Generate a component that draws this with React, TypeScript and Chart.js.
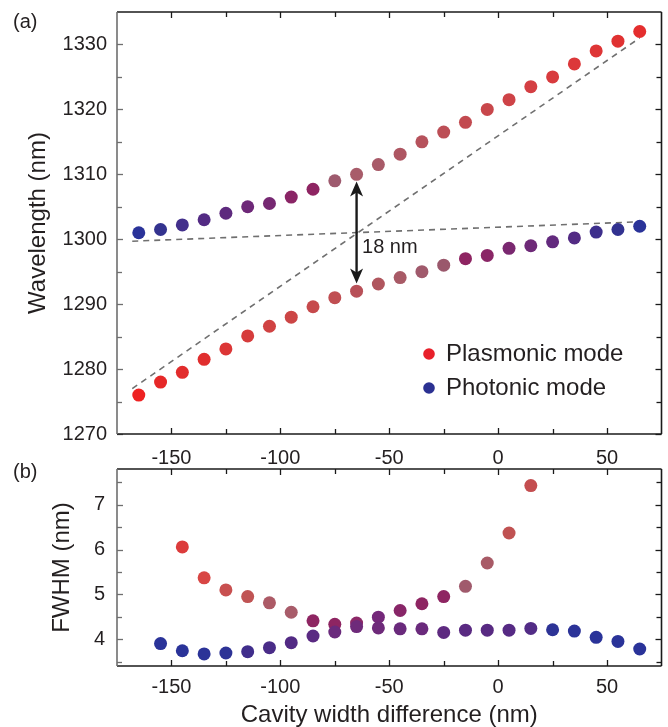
import React, { useEffect, useRef } from 'react';
import { Chart, registerables } from 'chart.js';

Chart.register(...registerables);

const FONT = '"Liberation Sans", Arial, Helvetica, sans-serif';
const TEXT = '#231f20';

// ---- Panel (a): resonance wavelengths ----
const cavityWidth = [-165, -155, -145, -135, -125, -115, -105, -95, -85, -75, -65, -55, -45, -35, -25, -15, -5, 5, 15, 25, 35, 45, 55, 65];
const upperBranch = [1301.0, 1301.5, 1302.2, 1303.0, 1304.0, 1305.0, 1305.5, 1306.5, 1307.7, 1309.0, 1310.0, 1311.5, 1313.1, 1315.0, 1316.5, 1318.0, 1320.0, 1321.5, 1323.5, 1325.0, 1327.0, 1329.0, 1330.5, 1332.0];
const lowerBranch = [1276.0, 1278.0, 1279.5, 1281.5, 1283.1, 1285.1, 1286.6, 1288.0, 1289.6, 1291.0, 1292.0, 1293.1, 1294.1, 1295.0, 1296.0, 1297.0, 1297.5, 1298.6, 1299.0, 1299.6, 1300.2, 1301.1, 1301.5, 1302.0];
const upperColors = ['#2a3399', '#34338f', '#43308c', '#532b84', '#5e2a7e', '#6e2878', '#762872', '#8a2566', '#8e2462', '#9e5a6e', '#a85c6a', '#a85a68', '#ae5662', '#b6525c', '#bc4e56', '#c24a50', '#c8474b', '#ce4347', '#d43f43', '#d83b3e', '#dc383a', '#de3536', '#e03232', '#e42e2e'];
const lowerColors = ['#ee2222', '#e62828', '#e22c2c', '#e02e2e', '#dc3636', '#d63c3c', '#d04242', '#cc4646', '#c64a4c', '#c04e52', '#b85058', '#b0565e', '#a85a66', '#a05a6c', '#9a586c', '#8e2462', '#8a2666', '#7a2870', '#6e2a78', '#632a7e', '#532b84', '#3d2f8c', '#323290', '#2a3399'];

// uncoupled (dashed) modes
const uncoupledPlasmonicX = [-168, 65];
const uncoupledPlasmonic = [1277.0, 1331.0];
const uncoupledPhotonicX = [-168, 66];
const uncoupledPhotonic = [1299.7, 1302.7];

// splitting arrow
const splittingX = -65;
const splittingLow = 1293.2;
const splittingHigh = 1308.9;
const splittingLabel = '18 nm';
const splittingLabelX = -62.5;
const splittingLabelY = 1298.8;

// ---- Panel (b): FWHM ----
const fwhmPlasmonicX = [-145, -135, -125, -115, -105, -95, -85, -75, -65, -55, -45, -35, -25, -15, -5, 5, 15];
const fwhmPlasmonic = [6.06, 5.37, 5.10, 4.95, 4.81, 4.60, 4.41, 4.33, 4.36, 4.49, 4.64, 4.79, 4.95, 5.18, 5.70, 6.37, 7.43];
const fwhmPlasmonicColors = ['#dc3c3c', '#d84644', '#c85050', '#c05454', '#ac5a66', '#a85c6a', '#8e2562', '#8e2562', '#8c2868', '#74287a', '#882668', '#8e2562', '#8e2562', '#a05a6c', '#a85a66', '#c05252', '#c44e50'];
const fwhmPhotonicX = [-155, -145, -135, -125, -115, -105, -95, -85, -75, -65, -55, -45, -35, -25, -15, -5, 5, 15, 25, 35, 45, 55, 65];
const fwhmPhotonic = [3.90, 3.74, 3.67, 3.69, 3.72, 3.81, 3.92, 4.07, 4.16, 4.28, 4.25, 4.23, 4.23, 4.15, 4.20, 4.20, 4.20, 4.24, 4.21, 4.18, 4.04, 3.95, 3.78];
const fwhmPhotonicColors = ['#2a3399', '#2a3399', '#2b3398', '#2d3396', '#402e8c', '#4a2c88', '#522a84', '#5a2a82', '#6a2a7c', '#6e2a7a', '#6e2a7a', '#6a2a7c', '#6a2a7c', '#5e2a80', '#5a2a82', '#582a82', '#562a84', '#522c86', '#2d3396', '#2c3398', '#2a3399', '#2a3399', '#2a3399'];

// ---- axes ----
const xMin = -175;
const xMax = 75;
const xMajorTicks = [-150, -100, -50, 0, 50];
const xMinorTicks = [-125, -75, -25, 25];
const wavelengthMin = 1270;
const wavelengthMax = 1335;
const wavelengthMajorTicks = [1270, 1280, 1290, 1300, 1310, 1320, 1330];
const wavelengthMinorTicks = [1275, 1285, 1295, 1305, 1315, 1325];
const fwhmMin = 3.4;
const fwhmMax = 7.8;
const fwhmMajorTicks = [4, 5, 6, 7];
const fwhmMinorTicks = [3.5, 4.5, 5.5, 6.5, 7.5];

const legendLabels = ['Plasmonic mode', 'Photonic mode'];
const legendColors = ['#e8202a', '#2b3192'];

const xTitle = 'Cavity width difference (nm)';
const yTitleA = 'Wavelength (nm)';
const yTitleB = 'FWHM (nm)';

type FrameCfg = {
  yMajor: number[];
  yMinor: number[];
  panel: string;
  panelY: number;
  extras?: (chart: any) => void;
};

function makeFramePlugin(cfg: FrameCfg) {
  return {
    id: 'frame',
    afterDraw(chart: any) {
      const { ctx, chartArea: a, scales } = chart;
      const x = scales.x;
      const y = scales.y;
      ctx.save();
      if (cfg.extras) cfg.extras(chart);

      const seg = (x1: number, y1: number, x2: number, y2: number) => {
        ctx.beginPath();
        ctx.moveTo(x1, y1);
        ctx.lineTo(x2, y2);
        ctx.stroke();
      };
      ctx.lineWidth = 1.3;
      ctx.strokeStyle = '#1a1a1a';
      const xt = (vals: number[], len: number) =>
        vals.forEach((v) => {
          const p = Math.round(x.getPixelForValue(v)) + 0.5;
          seg(p, a.bottom, p, a.bottom - len);
          seg(p, a.top, p, a.top + len);
        });
      xt(xMajorTicks, 6);
      xt(xMinorTicks, 5);
      const yt = (vals: number[], len: number, side: 'l' | 'r') =>
        vals.forEach((v) => {
          const p = Math.round(y.getPixelForValue(v)) + 0.5;
          if (side === 'l') seg(a.left, p, a.left + len, p);
          else seg(a.right, p, a.right - len, p);
        });
      yt(cfg.yMajor, 6, 'r');
      yt(cfg.yMinor, 5, 'r');
      ctx.strokeStyle = '#6f6f6f';
      yt(cfg.yMajor, 6, 'l');
      yt(cfg.yMinor, 5, 'l');

      ctx.lineWidth = 1.6;
      ctx.strokeStyle = '#1a1a1a';
      seg(a.left, a.top, a.right, a.top);
      seg(a.right, a.top, a.right, a.bottom);
      seg(a.left, a.bottom, a.right, a.bottom);
      ctx.strokeStyle = '#6f6f6f';
      seg(a.left, a.top, a.left, a.bottom);

      ctx.fillStyle = TEXT;
      ctx.font = `20px ${FONT}`;
      ctx.textAlign = 'left';
      ctx.textBaseline = 'middle';
      ctx.fillText(cfg.panel, 13, cfg.panelY);
      ctx.restore();
    },
  };
}

function drawExtrasA(chart: any) {
  const { ctx, chartArea: a, scales } = chart;
  const x = scales.x;
  const y = scales.y;
  const px = x.getPixelForValue(splittingX);
  const yTop = y.getPixelForValue(splittingHigh);
  const yBot = y.getPixelForValue(splittingLow);
  ctx.strokeStyle = '#1a1a1a';
  ctx.fillStyle = '#1a1a1a';
  ctx.lineWidth = 2.4;
  ctx.beginPath();
  ctx.moveTo(px, yTop + 10);
  ctx.lineTo(px, yBot - 10);
  ctx.stroke();
  const head = (tip: number, dir: number) => {
    ctx.beginPath();
    ctx.moveTo(px, tip);
    ctx.lineTo(px - 6.5, tip + dir * 15);
    ctx.lineTo(px, tip + dir * 11);
    ctx.lineTo(px + 6.5, tip + dir * 15);
    ctx.closePath();
    ctx.fill();
  };
  head(yTop, 1);
  head(yBot, -1);
  ctx.fillStyle = TEXT;
  ctx.font = `20px ${FONT}`;
  ctx.textAlign = 'left';
  ctx.textBaseline = 'middle';
  ctx.fillText(splittingLabel, x.getPixelForValue(splittingLabelX), y.getPixelForValue(splittingLabelY));
  ctx.font = `24px ${FONT}`;
  legendLabels.forEach((lab, i) => {
    const cy = a.top + 342 + i * 34;
    ctx.fillStyle = legendColors[i];
    ctx.beginPath();
    ctx.arc(a.left + 312, cy, 5.8, 0, Math.PI * 2);
    ctx.fill();
    ctx.fillStyle = TEXT;
    ctx.fillText(lab, a.left + 329, cy);
  });
}

function fixAxisY(width: number) {
  return (s: any) => {
    s.width = width;
    s.paddingTop = 0;
    s.paddingBottom = 0;
  };
}
function fixAxisX(height: number) {
  return (s: any) => {
    s.height = height;
    s.paddingLeft = 0;
    s.paddingRight = 0;
  };
}

const tickFont = { family: FONT, size: 20 };
const titleFont = { family: FONT, size: 24 };
const noGrid = { display: false, drawTicks: false };

function pts(xs: number[], ys: number[]) {
  return xs.map((v, i) => ({ x: v, y: ys[i] }));
}

export default function App() {
  const refA = useRef<HTMLCanvasElement>(null);
  const refB = useRef<HTMLCanvasElement>(null);

  useEffect(() => {
    const dashed = {
      showLine: true,
      pointRadius: 0,
      borderColor: '#707070',
      borderWidth: 1.6,
      borderDash: [6, 5],
      order: 2,
    };
    const dots = (data: any[], colors: string[]) => ({
      data,
      showLine: false,
      pointRadius: 6.5,
      pointBorderWidth: 0,
      pointBackgroundColor: colors,
      pointBorderColor: colors,
      order: 1,
    });

    const chartA = new Chart(refA.current as HTMLCanvasElement, {
      type: 'scatter',
      data: {
        datasets: [
          { ...dashed, data: pts(uncoupledPlasmonicX, uncoupledPlasmonic) } as any,
          { ...dashed, data: pts(uncoupledPhotonicX, uncoupledPhotonic) } as any,
          dots(pts(cavityWidth, upperBranch), upperColors) as any,
          dots(pts(cavityWidth, lowerBranch), lowerColors) as any,
        ],
      },
      options: {
        responsive: false,
        animation: false,
        events: [],
        layout: { padding: { top: 12, right: 5, left: 0, bottom: 0 } },
        plugins: { legend: { display: false }, tooltip: { enabled: false } },
        scales: {
          x: {
            type: 'linear',
            min: xMin,
            max: xMax,
            grid: noGrid,
            border: { display: false },
            afterBuildTicks: (s: any) => {
              s.ticks = xMajorTicks.map((v) => ({ value: v }));
            },
            afterFit: fixAxisX(46),
            ticks: { color: TEXT, font: tickFont, padding: 12, maxRotation: 0, autoSkip: false, callback: (v: any) => String(v) },
          },
          y: {
            type: 'linear',
            min: wavelengthMin,
            max: wavelengthMax,
            grid: noGrid,
            border: { display: false },
            afterBuildTicks: (s: any) => {
              s.ticks = wavelengthMajorTicks.map((v) => ({ value: v }));
            },
            afterFit: fixAxisY(117),
            ticks: { color: TEXT, font: tickFont, padding: 10, autoSkip: false, callback: (v: any) => String(v) },
            title: { display: true, text: yTitleA, color: TEXT, font: titleFont, padding: { top: 24, bottom: 0 } },
          },
        },
      },
      plugins: [
        makeFramePlugin({ yMajor: wavelengthMajorTicks, yMinor: wavelengthMinorTicks, panel: '(a)', panelY: 22, extras: drawExtrasA }),
      ],
    } as any);

    const chartB = new Chart(refB.current as HTMLCanvasElement, {
      type: 'scatter',
      data: {
        datasets: [
          dots(pts(fwhmPhotonicX, fwhmPhotonic), fwhmPhotonicColors) as any,
          dots(pts(fwhmPlasmonicX, fwhmPlasmonic), fwhmPlasmonicColors) as any,
        ],
      },
      options: {
        responsive: false,
        animation: false,
        events: [],
        layout: { padding: { top: 29, right: 5, left: 0, bottom: 0 } },
        plugins: { legend: { display: false }, tooltip: { enabled: false } },
        scales: {
          x: {
            type: 'linear',
            min: xMin,
            max: xMax,
            grid: noGrid,
            border: { display: false },
            afterBuildTicks: (s: any) => {
              s.ticks = xMajorTicks.map((v) => ({ value: v }));
            },
            afterFit: fixAxisX(64),
            ticks: { color: TEXT, font: tickFont, padding: 9, maxRotation: 0, autoSkip: false, callback: (v: any) => String(v) },
            title: { display: true, text: xTitle, color: TEXT, font: titleFont, padding: { top: 0, bottom: 0 } },
          },
          y: {
            type: 'linear',
            min: fwhmMin,
            max: fwhmMax,
            grid: noGrid,
            border: { display: false },
            afterBuildTicks: (s: any) => {
              s.ticks = fwhmMajorTicks.map((v) => ({ value: v }));
            },
            afterFit: fixAxisY(117),
            ticks: { color: TEXT, font: tickFont, padding: 12, autoSkip: false, callback: (v: any) => String(v) },
            title: { display: true, text: yTitleB, color: TEXT, font: titleFont, padding: { top: 48, bottom: 0 } },
          },
        },
      },
      plugins: [makeFramePlugin({ yMajor: fwhmMajorTicks, yMinor: fwhmMinorTicks, panel: '(b)', panelY: 32 })],
    } as any);

    return () => {
      chartA.destroy();
      chartB.destroy();
    };
  }, []);

  return (
    <div style={{ position: 'fixed', left: 0, top: 0, width: 668, height: 727, overflow: 'hidden', background: '#fff' }}>
      <canvas ref={refA} width={668} height={480} style={{ position: 'absolute', left: 0, top: 0 }} />
      <canvas ref={refB} width={668} height={290} style={{ position: 'absolute', left: 0, top: 440 }} />
    </div>
  );
}
